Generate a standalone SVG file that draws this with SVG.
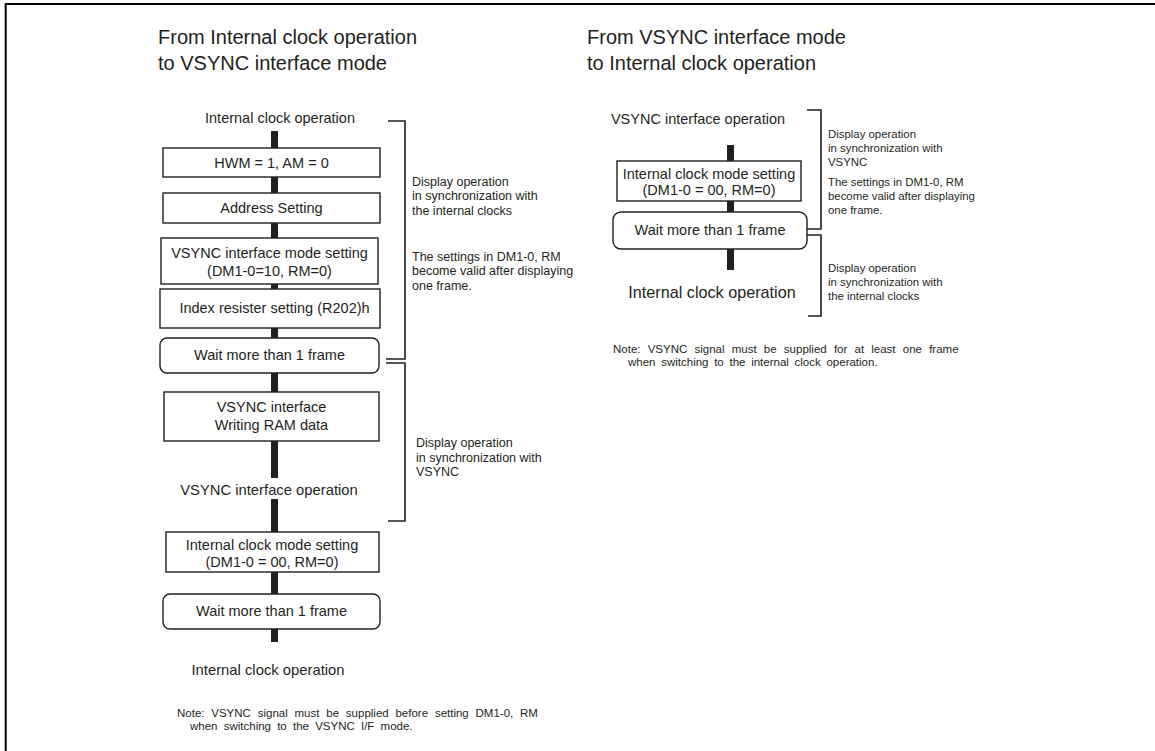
<svg xmlns="http://www.w3.org/2000/svg" width="1155" height="751" viewBox="0 0 1155 751">
<style>
text{font-family:"Liberation Sans",Arial,sans-serif;fill:#231f20}
.t{font-size:20px}
.b{font-size:14.5px;text-anchor:middle}
.a{font-size:12.5px}
.ar{font-size:11.4px}
.n{font-size:11.5px}
.box{fill:#fff;stroke:#231f20;stroke-width:1.4}
.br{fill:none;stroke:#231f20;stroke-width:1.6}
.sp{fill:#231f20}
</style>
<rect width="1155" height="751" fill="#fff"/>
<path d="M5.7 751V4H1155" fill="none" stroke="#000" stroke-width="2"/>
<g id="titles">
<text class="t" x="158" y="44">From Internal clock operation</text>
<text class="t" x="158" y="70">to VSYNC interface mode</text>
<text class="t" x="587" y="44">From VSYNC interface mode</text>
<text class="t" x="587" y="70">to Internal clock operation</text>
</g>
<g id="connectors">
<rect class="sp" x="271" y="131" width="7" height="17"/>
<rect class="sp" x="271" y="177" width="7" height="16"/>
<rect class="sp" x="271" y="223" width="7" height="15"/>
<rect class="sp" x="271" y="284" width="7" height="5"/>
<rect class="sp" x="271" y="328" width="7" height="10"/>
<rect class="sp" x="271" y="373" width="7" height="19"/>
<rect class="sp" x="271" y="441" width="7" height="37"/>
<rect class="sp" x="271" y="499" width="7" height="33"/>
<rect class="sp" x="271" y="572" width="7" height="22"/>
<rect class="sp" x="271" y="629" width="7" height="13"/>
<rect class="sp" x="727" y="145" width="7" height="16"/>
<rect class="sp" x="727" y="201" width="7" height="11"/>
<rect class="sp" x="727" y="249" width="7" height="21"/>
</g>
<g id="brackets">
<path class="br" d="M388 121H405V359H386"/>
<path class="br" d="M386 363H405V521H388"/>
<path class="br" d="M807 110H821V229H807"/>
<path class="br" d="M807 235H821V316H808"/>
</g>
<g id="L_start"><text class="b" x="280" y="123">Internal clock operation</text></g>
<g id="L_hwm"><rect class="box" x="163" y="148" width="217" height="29"/><text class="b" x="271.5" y="168">HWM = 1, AM = 0</text></g>
<g id="L_addr"><rect class="box" x="163" y="193" width="217" height="30"/><text class="b" x="271.5" y="213">Address Setting</text></g>
<g id="L_vsyncset"><rect class="box" x="161" y="238" width="217" height="46"/><text class="b" x="269.5" y="258">VSYNC interface mode setting</text><text class="b" x="269.5" y="276">(DM1-0=10, RM=0)</text></g>
<g id="L_index"><rect class="box" x="160" y="289" width="220" height="39"/><text class="b" x="274.5" y="313">Index resister setting (R202)h</text></g>
<g id="L_wait1"><rect class="box" x="160" y="338" width="219" height="35" rx="7"/><text class="b" x="269.5" y="360">Wait more than 1 frame</text></g>
<g id="L_ram"><rect class="box" x="164" y="392" width="215" height="49"/><text class="b" x="271.5" y="412">VSYNC interface</text><text class="b" x="271.5" y="430">Writing RAM data</text></g>
<g id="L_vop"><text class="b" x="269" y="495" style="font-size:14.8px">VSYNC interface operation</text></g>
<g id="L_intset"><rect class="box" x="166" y="532" width="213" height="40"/><text class="b" x="272" y="550">Internal clock mode setting</text><text class="b" x="272" y="567">(DM1-0 = 00, RM=0)</text></g>
<g id="L_wait2"><rect class="box" x="163" y="594" width="217" height="35" rx="7"/><text class="b" x="271.5" y="616">Wait more than 1 frame</text></g>
<g id="L_end"><text class="b" x="268" y="675" style="font-size:14.8px">Internal clock operation</text></g>
<g id="L_notes">
<text class="a" x="412" y="186">Display operation</text>
<text class="a" x="412" y="200">in synchronization with</text>
<text class="a" x="412" y="215">the internal clocks</text>
<text class="a" x="412" y="261">The settings in DM1-0, RM</text>
<text class="a" x="412" y="275">become valid after displaying</text>
<text class="a" x="412" y="290">one frame.</text>
<text class="a" x="416" y="447">Display operation</text>
<text class="a" x="416" y="462">in synchronization with</text>
<text class="a" x="416" y="476">VSYNC</text>
<text class="n" x="177" y="717" style="word-spacing:3.6px">Note: VSYNC signal must be supplied before setting DM1-0, RM</text>
<text class="n" x="190" y="730" style="word-spacing:3px">when switching to the VSYNC I/F mode.</text>
</g>
<g id="R_start"><text class="b" x="698" y="124">VSYNC interface operation</text></g>
<g id="R_intset"><rect class="box" x="617" y="161" width="184" height="40"/><text class="b" x="709" y="179">Internal clock mode setting</text><text class="b" x="709" y="195">(DM1-0 = 00, RM=0)</text></g>
<g id="R_wait"><rect class="box" x="613" y="212" width="194" height="37" rx="8"/><text class="b" x="710" y="235">Wait more than 1 frame</text></g>
<g id="R_end"><text class="b" x="712" y="298" style="font-size:16.2px">Internal clock operation</text></g>
<g id="R_notes">
<text class="ar" x="828" y="138">Display operation</text>
<text class="ar" x="828" y="152">in synchronization with</text>
<text class="ar" x="828" y="166">VSYNC</text>
<text class="ar" x="828" y="186">The settings in DM1-0, RM</text>
<text class="ar" x="828" y="200">become valid after displaying</text>
<text class="ar" x="828" y="214">one frame.</text>
<text class="ar" x="828" y="272">Display operation</text>
<text class="ar" x="828" y="286">in synchronization with</text>
<text class="ar" x="828" y="300">the internal clocks</text>
<text class="n" x="613" y="353" style="word-spacing:4px">Note: VSYNC signal must be supplied for at least one frame</text>
<text class="n" x="628" y="366" style="word-spacing:2.5px">when switching to the internal clock operation.</text>
</g>
</svg>
